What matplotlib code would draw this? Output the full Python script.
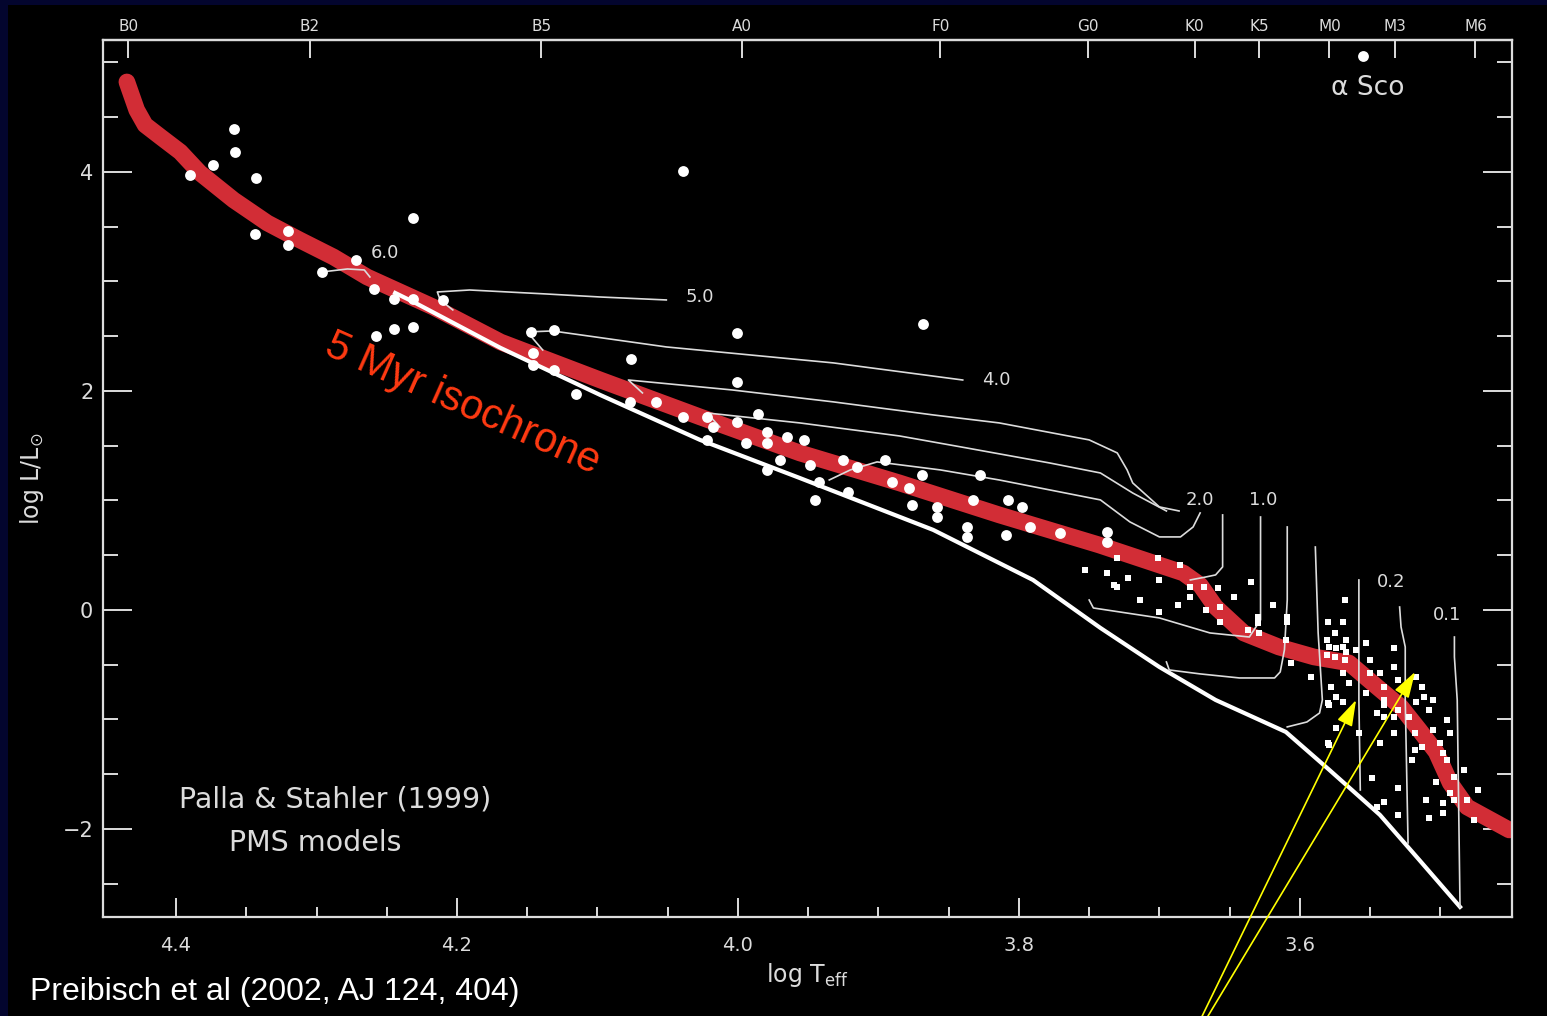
import numpy as np
import matplotlib.pyplot as plt
from matplotlib.patches import Rectangle
from matplotlib.ticker import FixedLocator, MultipleLocator

# 5 Myr isochrone (log Teff, log L/Lsun)
iso_t = [4.435, 4.428, 4.422, 4.411, 4.397, 4.383, 4.359, 4.335, 4.312, 4.288,
         4.264, 4.217, 4.169, 4.098, 4.027, 3.956, 3.885, 3.814, 3.743, 3.683,
         3.671, 3.660, 3.640, 3.615, 3.590, 3.565, 3.545, 3.528, 3.515, 3.503,
         3.493, 3.481, 3.451]
iso_l = [4.822, 4.566, 4.429, 4.320, 4.183, 3.991, 3.744, 3.534, 3.379, 3.224,
         3.041, 2.767, 2.447, 2.100, 1.763, 1.434, 1.160, 0.868, 0.594, 0.338,
         0.228, 0.027, -0.210, -0.338, -0.429, -0.484, -0.703, -0.886, -1.096, -1.297,
         -1.580, -1.799, -2.009]

# zero-age main sequence
zams_t = [4.244, 4.231, 4.169, 4.098, 4.027, 3.956, 3.861, 3.790, 3.742, 3.700,
          3.660, 3.610, 3.579, 3.543, 3.515, 3.486]
zams_l = [2.895, 2.813, 2.393, 1.963, 1.553, 1.205, 0.731, 0.274, -0.164, -0.521,
          -0.822, -1.114, -1.461, -1.872, -2.283, -2.712]

# Palla & Stahler PMS tracks, one pair per mass
trk60_t = [4.296, 4.278, 4.266, 4.262]
trk60_l = [3.087, 3.114, 3.105, 3.041]
trk50_t = [4.203, 4.212, 4.214, 4.191, 4.137, 4.098, 4.051]
trk50_l = [2.740, 2.831, 2.904, 2.922, 2.886, 2.858, 2.831]
trk40_t = [4.139, 4.150, 4.132, 4.051, 3.932, 3.840]
trk40_l = [2.374, 2.539, 2.548, 2.402, 2.256, 2.100]
trk30_t = [4.068, 4.078, 4.004, 3.932, 3.861, 3.814, 3.750, 3.730, 3.723, 3.719, 3.700, 3.686]
trk30_l = [1.982, 2.100, 2.009, 1.900, 1.781, 1.708, 1.553, 1.434, 1.279, 1.160, 0.941, 0.904]
trk25_t = [4.013, 4.022, 3.956, 3.885, 3.837, 3.778, 3.742, 3.719, 3.695]
trk25_l = [1.671, 1.799, 1.708, 1.589, 1.479, 1.342, 1.251, 1.068, 0.904]
trk20_t = [3.671, 3.676, 3.685, 3.700, 3.721, 3.742, 3.778, 3.814, 3.856, 3.901, 3.920, 3.935]
trk20_l = [0.886, 0.758, 0.667, 0.667, 0.804, 1.005, 1.096, 1.187, 1.279, 1.352, 1.279, 1.187]
trk15_t = [3.655, 3.655, 3.660, 3.667, 3.678]
trk15_l = [0.868, 0.393, 0.320, 0.301, 0.274]
trk10_t = [3.628, 3.628, 3.628, 3.636, 3.664, 3.700, 3.747, 3.750]
trk10_l = [0.849, 0.457, -0.091, -0.247, -0.210, -0.073, 0.018, 0.091]
trk08_t = [3.609, 3.609, 3.611, 3.614, 3.618, 3.643, 3.671, 3.693, 3.695]
trk08_l = [0.758, 0.091, -0.365, -0.566, -0.621, -0.621, -0.584, -0.548, -0.475]
trk06_t = [3.589, 3.587, 3.584, 3.586, 3.595, 3.609]
trk06_l = [0.575, -0.210, -0.822, -0.941, -1.023, -1.068]
trk04_t = [3.558, 3.558, 3.557]
trk04_l = [0.274, -0.822, -1.644]
trk02_t = [3.529, 3.528, 3.525, 3.525, 3.523]
trk02_l = [0.027, -0.155, -0.338, -0.822, -2.128]
trk01_t = [3.490, 3.490, 3.488, 3.486]
trk01_l = [-0.247, -0.429, -0.822, -2.712]

# track mass labels: text, log Teff, log L
mass_labels = [("6.0", 4.251, 3.26), ("5.0", 4.027, 2.858), ("4.0", 3.816, 2.100),
               ("2.0", 3.671, 1.005), ("1.0", 3.626, 1.005), ("0.2", 3.535, 0.256),
               ("0.1", 3.495, -0.046)]

# Upper Sco members: bright (B-F) and faint (G-M) stars
bright_stars = [(4.390, 3.973), (4.374, 4.064), (4.359, 4.393), (4.358, 4.183), (4.343, 3.945),
                (4.231, 3.580), (4.320, 3.461), (4.320, 3.333), (4.344, 3.434), (4.296, 3.087),
                (4.272, 3.196), (4.259, 2.932), (4.245, 2.840), (4.231, 2.840), (4.210, 2.831),
                (4.258, 2.502), (4.245, 2.566), (4.231, 2.584), (4.147, 2.539), (4.131, 2.557),
                (4.146, 2.347), (4.146, 2.237), (4.131, 2.192), (4.076, 2.292), (4.115, 1.973),
                (4.077, 1.900), (4.058, 1.900), (4.039, 1.763), (4.039, 4.009), (3.868, 2.612),
                (4.001, 2.530), (4.001, 2.082), (4.022, 1.763), (4.022, 1.553), (4.018, 1.671),
                (4.001, 1.717), (3.986, 1.790), (3.979, 1.626), (3.979, 1.525), (3.979, 1.279),
                (3.965, 1.580), (3.953, 1.553), (3.970, 1.370), (3.949, 1.324), (3.945, 1.005),
                (3.942, 1.169), (3.922, 1.078), (3.925, 1.370), (3.915, 1.306), (3.895, 1.370),
                (3.890, 1.169), (3.876, 0.959), (3.869, 1.233), (3.878, 1.114), (3.858, 0.941),
                (3.858, 0.849), (3.837, 0.758), (3.837, 0.667), (3.833, 1.005), (3.828, 1.233),
                (3.808, 1.005), (3.809, 0.685), (3.994, 1.525), (3.798, 0.941), (3.792, 0.758),
                (3.771, 0.703), (3.737, 0.712), (3.737, 0.621)]

faint_stars = [(3.730, 0.475), (3.753, 0.365), (3.737, 0.338), (3.722, 0.292), (3.730, 0.210),
               (3.714, 0.091), (3.701, 0.475), (3.700, 0.274), (3.685, 0.411), (3.678, 0.210),
               (3.678, 0.119), (3.687, 0.046), (3.700, -0.018), (3.668, 0.210), (3.732, 0.228),
               (3.667, 0.000), (3.658, 0.201), (3.657, 0.027), (3.647, 0.119), (3.657, -0.110),
               (3.635, 0.256), (3.619, 0.046), (3.630, -0.064), (3.630, -0.119), (3.637, -0.183),
               (3.629, -0.210), (3.609, -0.064), (3.609, -0.110), (3.610, -0.274), (3.606, -0.484),
               (3.592, -0.612), (3.580, -0.110), (3.569, -0.110), (3.568, 0.091), (3.575, -0.210),
               (3.579, -0.338), (3.575, -0.429), (3.569, -0.338), (3.568, -0.457), (3.569, -0.575),
               (3.565, -0.667), (3.578, -0.703), (3.574, -0.795), (3.580, -0.849), (3.569, -0.840),
               (3.560, -0.365), (3.553, -0.301), (3.550, -0.457), (3.550, -0.575), (3.543, -0.575),
               (3.540, -0.703), (3.540, -0.822), (3.545, -0.941), (3.553, -0.758), (3.533, -0.347),
               (3.533, -0.521), (3.530, -0.639), (3.517, -0.612), (3.513, -0.703), (3.512, -0.795),
               (3.517, -0.840), (3.505, -0.822), (3.530, -0.913), (3.522, -0.977), (3.518, -1.123),
               (3.513, -1.251), (3.505, -1.096), (3.500, -1.215), (3.495, -1.005), (3.493, -1.123),
               (3.498, -1.306), (3.580, -1.215), (3.558, -1.123), (3.543, -1.215), (3.579, -0.868),
               (3.574, -1.078), (3.579, -1.233), (3.540, -0.977), (3.540, -0.868), (3.533, -0.977),
               (3.533, -1.123), (3.508, -0.913), (3.518, -1.279), (3.520, -1.370), (3.495, -1.370),
               (3.503, -1.571), (3.490, -1.525), (3.483, -1.461), (3.473, -1.644), (3.481, -1.735),
               (3.490, -1.735), (3.498, -1.854), (3.508, -1.900), (3.530, -1.626), (3.510, -1.735),
               (3.549, -1.534), (3.540, -1.753), (3.545, -1.799), (3.530, -1.872), (3.476, -1.918),
               (3.493, -1.671), (3.498, -1.763), (3.581, -0.274), (3.567, -0.274), (3.581, -0.411),
               (3.567, -0.384), (3.574, -0.347)]

alpha_sco = (3.555, 5.059)

# spectral types along the top axis
spt_names = ["B0", "B2", "B5", "A0", "F0", "G0", "K0", "K5", "M0", "M3", "M6"]
spt_logt = [4.434, 4.305, 4.140, 3.997, 3.856, 3.751, 3.675, 3.629, 3.579, 3.532, 3.475]

# arrow tips (log Teff, log L)
arrow_tips = [(3.560, -0.822), (3.518, -0.566)]

gray = "#dcdcdc"

fig = plt.figure(figsize=(15.47, 10.16), dpi=100, facecolor="#03052e")
fig.add_artist(Rectangle((0.0052, 0.0), 0.9948, 0.9951, transform=fig.transFigure,
                         facecolor="black", edgecolor="none", zorder=-5))

ax = fig.add_axes([0.06658, 0.09744, 0.91080, 0.86319])
ax.set_facecolor("black")
ax.set_xlim(4.452, 3.449)
ax.set_ylim(-2.804, 5.205)

ax.plot(iso_t, iso_l, color="#d22d36", lw=12, solid_capstyle="round",
        solid_joinstyle="round", zorder=2)
ax.plot(zams_t, zams_l, color="white", lw=3, zorder=3)

tracks = [(trk60_t, trk60_l), (trk50_t, trk50_l), (trk40_t, trk40_l), (trk30_t, trk30_l),
          (trk25_t, trk25_l), (trk20_t, trk20_l), (trk15_t, trk15_l), (trk10_t, trk10_l),
          (trk08_t, trk08_l), (trk06_t, trk06_l), (trk04_t, trk04_l), (trk02_t, trk02_l),
          (trk01_t, trk01_l)]
for tt, ll in tracks:
    ax.plot(tt, ll, color=gray, lw=1.2, zorder=3)

for txt, tx, ty in mass_labels:
    ax.text(tx, ty, txt, color=gray, fontsize=13, ha="center", va="center", zorder=4)

bs = np.array(bright_stars)
fs = np.array(faint_stars)
ax.plot(bs[:, 0], bs[:, 1], "o", ms=7.8, color="white", mew=0, zorder=5)
ax.plot(fs[:, 0], fs[:, 1], "s", ms=4.6, color="white", mew=0, zorder=5)
ax.plot(*alpha_sco, "o", ms=7.8, color="white", mew=0, zorder=5)
ax.text(3.552, 4.767, "α Sco", color=gray, fontsize=19, ha="center", va="center")

ax.text(4.287, -1.735, "Palla & Stahler (1999)", color=gray, fontsize=20.5,
        ha="center", va="center")
ax.text(4.301, -2.128, "PMS models", color=gray, fontsize=20.5, ha="center", va="center")

ax.text(4.196, 1.88, "5 Myr isochrone", color="#ff3a12", fontsize=30,
        family="Liberation Sans", rotation=-24, rotation_mode="anchor",
        ha="center", va="center")

# axes frame and ticks
for sp in ax.spines.values():
    sp.set_color(gray)
    sp.set_linewidth(1.6)

ax.xaxis.set_major_locator(FixedLocator([4.4, 4.2, 4.0, 3.8, 3.6]))
ax.xaxis.set_minor_locator(FixedLocator(np.round(np.arange(3.5, 4.40, 0.05), 2)))
ax.yaxis.set_major_locator(FixedLocator([-2, 0, 2, 4]))
ax.yaxis.set_minor_locator(MultipleLocator(0.5))
ax.set_xticklabels(["4.4", "4.2", "4.0", "3.8", "3.6"])
ax.set_yticklabels(["\u22122", "0", "2", "4"])

ax.tick_params(axis="x", which="both", direction="in", top=False, bottom=True,
               colors=gray, width=1.4, labelsize=14, pad=14)
ax.tick_params(axis="x", which="major", length=13.5)
ax.tick_params(axis="x", which="minor", length=7)
ax.tick_params(axis="y", which="both", direction="in", left=True, right=True,
               colors=gray, width=1.4, labelsize=15, pad=7)
ax.tick_params(axis="y", which="major", length=21)
ax.tick_params(axis="y", which="minor", length=11)

top = ax.secondary_xaxis("top")
top.set_xticks(spt_logt)
top.set_xticklabels(spt_names)
top.tick_params(direction="in", length=13, width=1.4, colors=gray, labelsize=11, pad=4)
top.spines["top"].set_color(gray)
top.spines["top"].set_linewidth(1.6)

ax.set_xlabel("log T$_{\\rm eff}$", color=gray, fontsize=17, labelpad=4)
ax.set_ylabel("log L/L$_{\\odot}$", color=gray, fontsize=17, labelpad=12)

arrow_style = dict(arrowstyle="-|>,head_length=0.8,head_width=0.25",
                   mutation_scale=20, color="#ffff00", lw=1.2, shrinkA=0, shrinkB=0)
ax.annotate("", xy=arrow_tips[0], xycoords="data", xytext=(0.7755, -0.005),
            textcoords="figure fraction", annotation_clip=False,
            arrowprops=arrow_style, zorder=6)
ax.annotate("", xy=arrow_tips[1], xycoords="data", xytext=(0.7789, -0.005),
            textcoords="figure fraction", annotation_clip=False,
            arrowprops=arrow_style, zorder=6)

fig.text(30 / 1547, 1 - 992 / 1016, "Preibisch et al (2002, AJ 124, 404)", color="white",
         fontsize=23, family="Liberation Sans", ha="left", va="center")

fig.savefig("out.png", dpi=100, facecolor=fig.get_facecolor())
